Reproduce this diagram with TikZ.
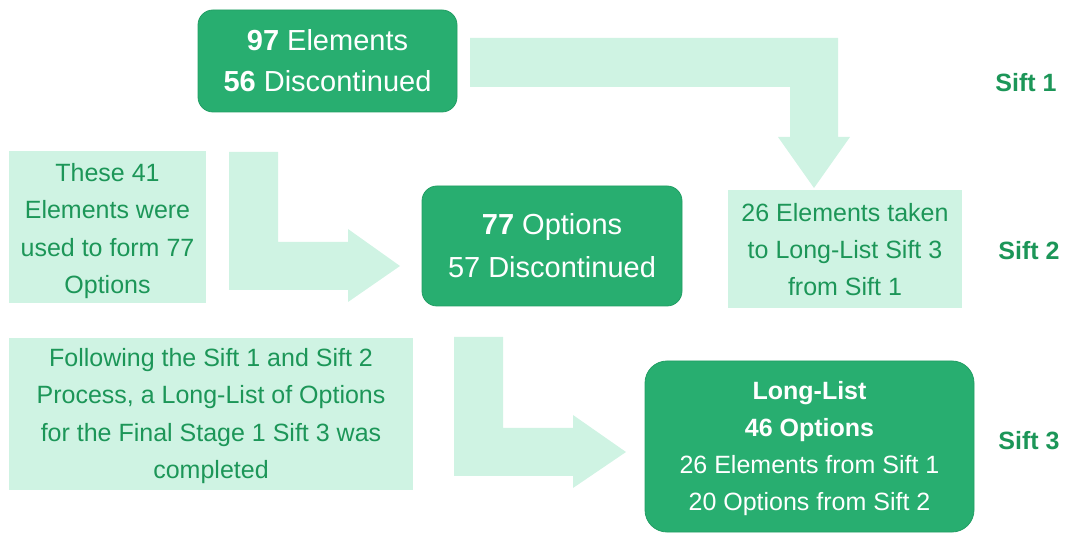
\documentclass[tikz,border=0pt]{standalone}
\usepackage{fontspec}
\setmainfont{Liberation Sans}
\definecolor{darkg}{RGB}{40,174,112}
\definecolor{darkgb}{RGB}{34,158,100}
\definecolor{lightg}{RGB}{207,243,227}
\definecolor{textg}{RGB}{28,150,88}
\begin{document}
\begin{tikzpicture}[x=1pt,y=-1pt,
  darkbox/.style={draw=darkgb,line width=0.8pt,fill=darkg,rounded corners=15pt,text=white,align=center,inner sep=0pt},
  lightbox/.style={fill=lightg,text=textg,align=center,inner sep=0pt,font=\fontsize{25}{37.3}\selectfont},
  blockarrow/.style={fill=lightg,draw=none},
  siftlabel/.style={text=textg,font=\fontsize{25}{30}\selectfont\bfseries}]
\useasboundingbox (0,0) rectangle (1066,534);
% block arrows
\fill[blockarrow] (470,38) -- (838,38) -- (838,137) -- (850,137) -- (814,188) -- (778,137) -- (790,137) -- (790,87) -- (470,87) -- cycle;
\fill[blockarrow] (229,152) -- (278,152) -- (278,242) -- (348,242) -- (348,229) -- (400,266) -- (348,302) -- (348,290) -- (229,290) -- cycle;
\fill[blockarrow] (454,337) -- (503,337) -- (503,428) -- (573,428) -- (573,415) -- (626,452) -- (573,488) -- (573,476) -- (454,476) -- cycle;
% boxes
\node[darkbox,minimum width=259pt,minimum height=102pt,font=\fontsize{29}{41}\selectfont] (b1) at (327.5,61) {\textbf{97} Elements\\\textbf{56} Discontinued};
\node[darkbox,minimum width=260pt,minimum height=120pt,font=\fontsize{29}{43}\selectfont] (b2) at (552,246) {\textbf{77} Options\\57 Discontinued};
\node[darkbox,rounded corners=22pt,minimum width=329pt,minimum height=171pt,font=\fontsize{25}{37}\selectfont] (b3) at (809.5,446.5) {\rule{0pt}{22pt}\textbf{Long-List}\\\textbf{46 Options}\\26 Elements from Sift 1\\20 Options from Sift 2};
\node[lightbox,minimum width=197pt,minimum height=152pt] (n1) at (107.5,227) {\rule{0pt}{26pt}These 41\\Elements were\\used to form 77\\Options};
\node[lightbox,minimum width=234pt,minimum height=118pt] (n2) at (845,249.5) {26 Elements taken\\to Long-List Sift 3\\from Sift 1};
\node[lightbox,minimum width=404pt,minimum height=152pt] (n3) at (211,414) {\rule{0pt}{22pt}Following the Sift 1 and Sift 2\\Process, a Long-List of Options\\for the Final Stage 1 Sift 3 was\\completed};
% labels
\node[siftlabel] (s1) at (1026,83) {Sift 1};
\node[siftlabel] (s2) at (1029,251) {Sift 2};
\node[siftlabel] (s3) at (1029,441) {Sift 3};
\end{tikzpicture}
\end{document}
